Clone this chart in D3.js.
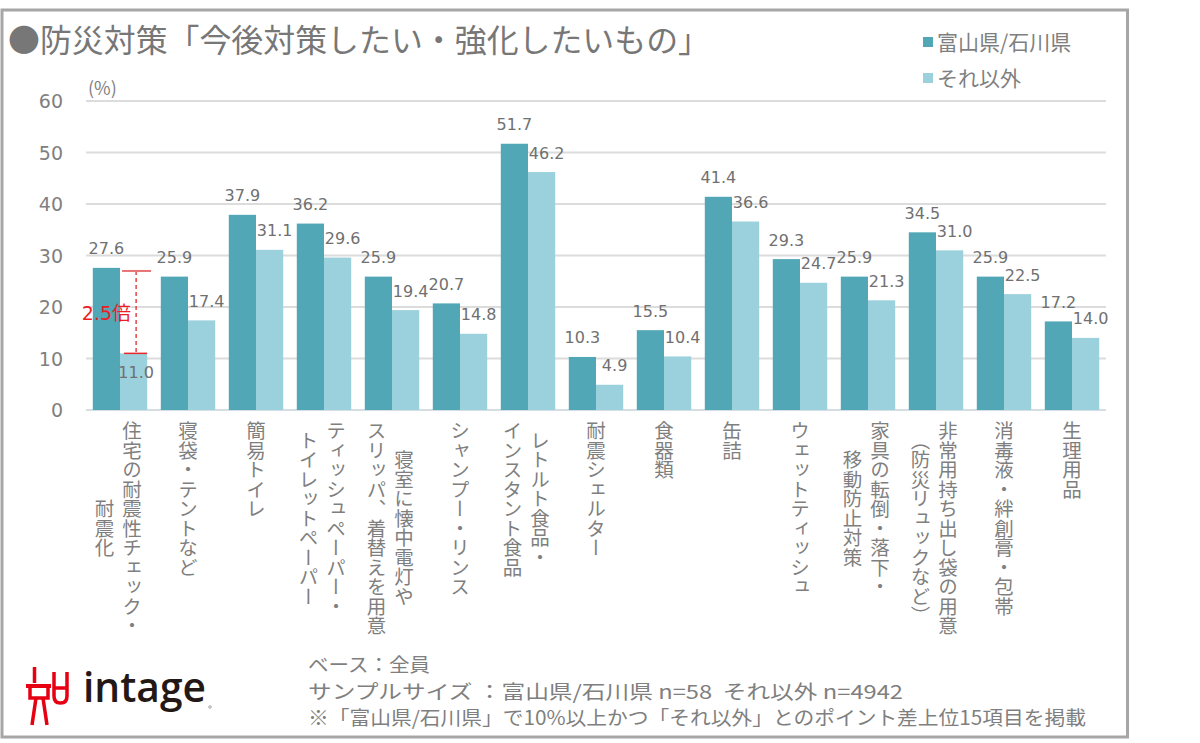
<!DOCTYPE html>
<html><head><meta charset="utf-8">
<script src="https://cdn.jsdelivr.net/npm/d3@7"></script>
<style>
html,body{margin:0;padding:0;background:#fff;}
svg{display:block;}
.vt{writing-mode:vertical-rl;text-orientation:mixed;}
</style></head>
<body><svg id="c" width="1200" height="743"></svg>
<script>
// ---- data ----
const categories = [
  "住宅の耐震性チェック・\n耐震化",
  "寝袋・テントなど",
  "簡易トイレ",
  "ティッシュペーパー・\nトイレットペーパー",
  "寝室に懐中電灯や\nスリッパ、着替えを用意",
  "シャンプー・リンス",
  "レトルト食品・\nインスタント食品",
  "耐震シェルター",
  "食器類",
  "缶詰",
  "ウェットティッシュ",
  "家具の転倒・落下・\n移動防止対策",
  "非常用持ち出し袋の用意\n（防災リュックなど）",
  "消毒液・絆創膏・包帯",
  "生理用品"
];
const seriesNames = ["富山県/石川県", "それ以外"];
const toyamaIshikawa = [27.6,25.9,37.9,36.2,25.9,20.7,51.7,10.3,15.5,41.4,29.3,25.9,34.5,25.9,17.2];
const others = [11.0,17.4,31.1,29.6,19.4,14.8,46.2,4.9,10.4,36.6,24.7,21.3,31.0,22.5,14.0];
const yTicks = [0,10,20,30,40,50,60];
const annotation = {index:0, from:11.0, to:27.0, label:"2.5倍"};
const titleText = "●防災対策「今後対策したい・強化したいもの」";
const unitText = "(%)";
const footLines = [
  "ベース：全員",
  "サンプルサイズ ：富山県/石川県 n=58  それ以外 n=4942",
  "※「富山県/石川県」で10%以上かつ「それ以外」とのポイント差上位15項目を掲載"
];

// ---- styles ----
const darkC = "#52a7b7", lightC = "#9bd0dd";
const grey = "#7f7f7f";
const jp = "'Noto Sans CJK JP','Noto Sans',sans-serif";
const num = "'DejaVu Sans',sans-serif";

const svg = d3.select("#c");
svg.append("rect").attr("width",1200).attr("height",743).attr("fill","#fff");
svg.append("rect").attr("x",2).attr("y",10).attr("width",1125.5).attr("height",727)
  .attr("fill","none").attr("stroke","#a6a6a6").attr("stroke-width",3);

const x = d3.scaleBand().domain(d3.range(categories.length)).range([86,1106])
  .paddingInner(0.2).paddingOuter(0.1);
const xs = d3.scaleBand().domain([0,1]).range([0,x.bandwidth()]);
const y = d3.scaleLinear().domain([0,60]).range([410,101]);

// grid
svg.append("g").selectAll("line").data(yTicks).join("line")
  .attr("x1",86).attr("x2",1106).attr("y1",d=>y(d)).attr("y2",d=>y(d))
  .attr("stroke",d=>d===0?"#d5dfe3":"#dcdcdc").attr("stroke-width",2);

// y axis labels
const yAxis = d3.axisLeft(y).tickValues(yTicks).tickSize(0).tickPadding(0);
const ga = svg.append("g").attr("transform","translate(63,0)").call(yAxis);
ga.select(".domain").remove();
ga.selectAll("text").attr("font-family",num).attr("font-size",19).attr("fill",grey)
  .attr("dy","0.36em").attr("x",0);

svg.append("text").attr("x",88).attr("y",95).attr("font-family",jp).attr("font-size",18)
  .attr("fill",grey).text(unitText);

// bars
const series = [toyamaIshikawa, others];
const colors = [darkC, lightC];
series.forEach((vals,s)=>{
  svg.append("g").selectAll("rect").data(vals).join("rect")
    .attr("x",(d,i)=>x(i)+xs(s)).attr("width",xs.bandwidth())
    .attr("y",d=>y(d)).attr("height",d=>y(0)-y(d)).attr("fill",colors[s]);
});
// value labels
series.forEach((vals,s)=>{
  svg.append("g").selectAll("text").data(vals).join("text")
    .attr("x",(d,i)=>x(i)+xs(s)+xs.bandwidth()/2 + (s===1?(i===annotation.index?2.5:5):0))
    .attr("y",(d,i)=> (s===1 && i===annotation.index) ? y(d)+25 : y(d)-13.5)
    .attr("text-anchor","middle").attr("font-family",num).attr("font-size",16)
    .attr("fill","#707070").text(d=>d.toFixed(1));
});

// annotation
{
  const ax = x(annotation.index)+xs(1)+xs.bandwidth()/2+2.5;
  const g = svg.append("g");
  g.append("line").attr("x1",ax).attr("x2",ax).attr("y1",y(annotation.to)).attr("y2",y(annotation.from))
    .attr("stroke","#e8262b").attr("stroke-width",1.3).attr("stroke-dasharray","4,3");
  g.append("line").attr("x1",ax-14).attr("x2",ax+15).attr("y1",y(annotation.to)).attr("y2",y(annotation.to))
    .attr("stroke","#e57373").attr("stroke-width",2);
  g.append("line").attr("x1",ax-12).attr("x2",ax+11).attr("y1",y(annotation.from)).attr("y2",y(annotation.from))
    .attr("stroke","#e8262b").attr("stroke-width",1.5);
  g.append("text").attr("x",ax-5).attr("y",(y(annotation.to)+y(annotation.from))/2+8)
    .attr("text-anchor","end").attr("font-family",num).attr("font-size",19).attr("fill","#ee1c25")
    .text(annotation.label.replace("倍","")).append("tspan").attr("font-family",jp).text("倍");
}

// category labels (vertical)
const catFs = 19.5, labelTop = 421;
categories.forEach((c,i)=>{
  const lines = c.split("\n");
  const cx = x(i)+x.bandwidth()/2;
  const g = svg.append("g");
  const ts = lines.map((ln,k)=>{
    const off = lines.length===1 ? 0 : (k===0 ? 12 : -15.5);
    return g.append("text").attr("class","vt").attr("x",cx+off).attr("y",0)
      .attr("text-anchor","middle").attr("font-family",jp).attr("font-size",catFs)
      .attr("fill",grey).text(ln);
  });
  const maxL = d3.max(ts,t=>t.node().getComputedTextLength());
  ts.forEach(t=>t.attr("y",labelTop+maxL/2));
});

// title
svg.append("text").attr("x",8).attr("y",52).attr("font-family",jp).attr("font-size",31.5)
  .attr("fill","#777").attr("textLength",702).attr("lengthAdjust","spacingAndGlyphs").text(titleText);

// legend
const lg = svg.append("g");
seriesNames.forEach((n,k)=>{
  const ly = 42 + k*36;
  lg.append("rect").attr("x",923).attr("y",ly-5).attr("width",10).attr("height",10).attr("fill",colors[k]);
  lg.append("text").attr("x",937).attr("y",ly).attr("dy","0.36em").attr("font-family",jp)
    .attr("font-size",21).attr("fill",grey).text(n);
});

// footnotes
const footW = [122, 595, 778];
footLines.forEach((t,k)=>{
  svg.append("text").attr("x",308).attr("y",672+k*26.5).attr("font-family",jp).attr("font-size",19.5)
    .attr("fill",grey).style("white-space","pre").attr("textLength",footW[k])
    .attr("lengthAdjust","spacingAndGlyphs").text(t);
});

// logo
{
  const g = svg.append("g").attr("stroke","#e60012").attr("fill","none").attr("stroke-linecap","butt");
  g.append("line").attr("x1",34.5).attr("x2",34.5).attr("y1",667).attr("y2",683).attr("stroke-width",3.5);
  g.append("line").attr("x1",26).attr("x2",51).attr("y1",686).attr("y2",686).attr("stroke-width",4);
  g.append("path").attr("d","M30,686 L30,698 L48,698 L48,686").attr("stroke-width",3.5);
  g.append("path").attr("d","M36,698 L32,725 M43,698 L47,725").attr("stroke-width",3.5);
  g.append("path").attr("d","M54,672 L54,696 Q54,703 60.5,703 Q67,703 67,696 L67,672 M54,688 L67,688").attr("stroke-width",3.5);
  svg.append("text").attr("x",83).attr("y",702).attr("font-family","'Open Sans',sans-serif")
    .attr("font-weight",600).attr("font-size",41).attr("fill","#231815")
    .attr("textLength",123).attr("lengthAdjust","spacingAndGlyphs").text("intage");
  svg.append("circle").attr("cx",210).attr("cy",707).attr("r",1.3).attr("fill","none").attr("stroke","#555").attr("stroke-width",0.5);
}
</script></body></html>
